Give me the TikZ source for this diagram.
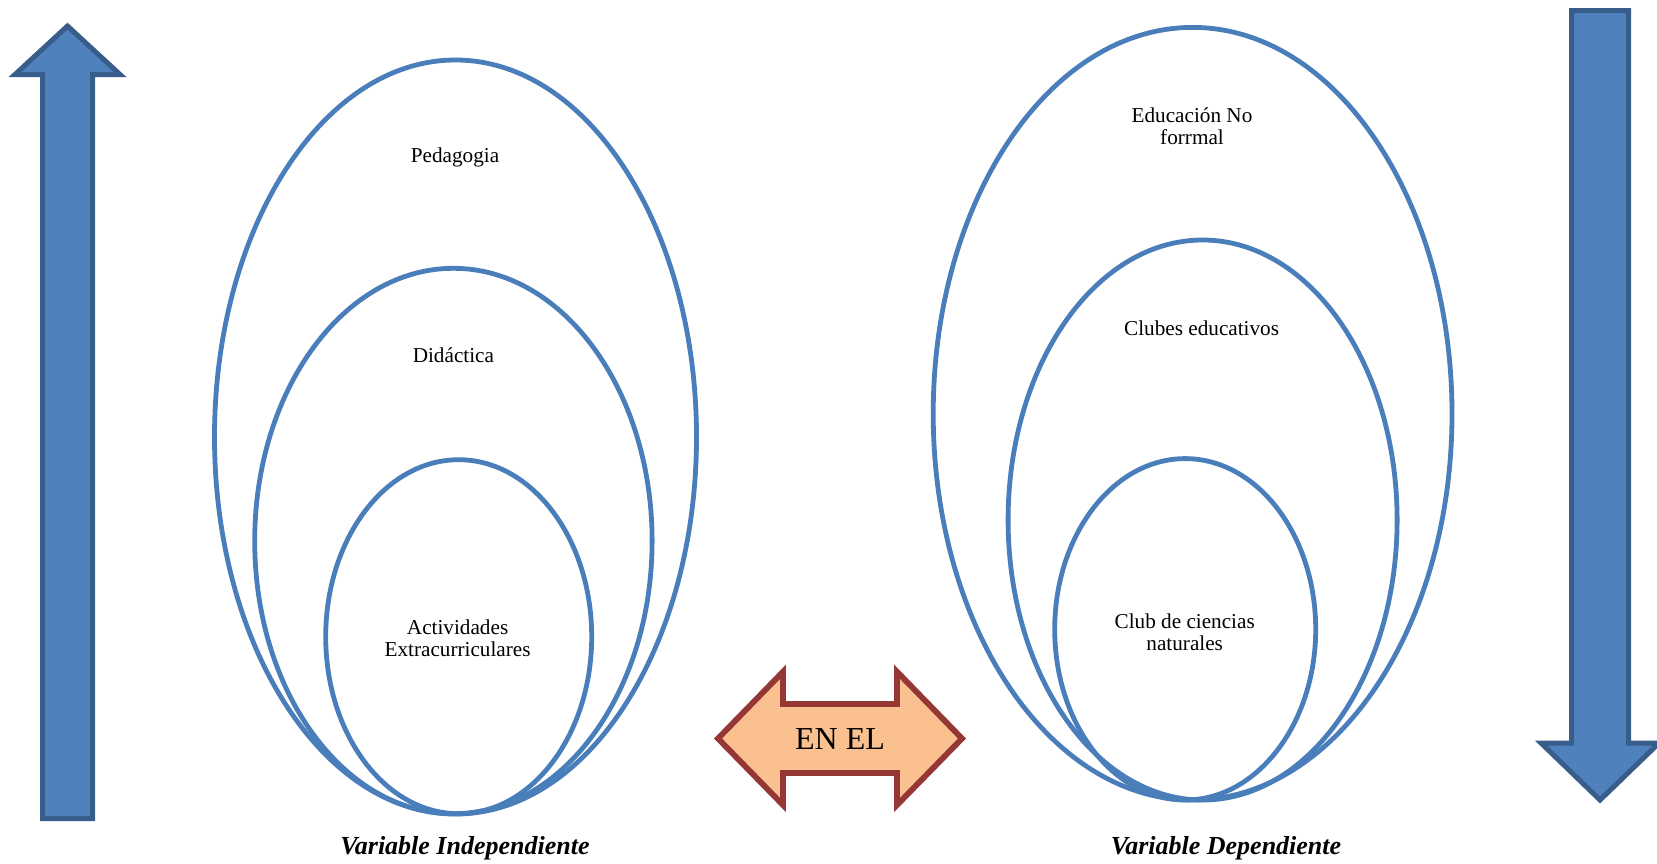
\documentclass[tikz,border=0pt]{standalone}
\usepackage{fontspec}
\setmainfont{Liberation Serif}
\usetikzlibrary{shapes.geometric}
\definecolor{arrowfill}{HTML}{4F81BD}
\definecolor{arrowline}{HTML}{385D8A}
\definecolor{ringline}{HTML}{4A7EBB}
\definecolor{peach}{HTML}{FAC090}
\definecolor{brick}{HTML}{953735}
\tikzset{
  ring/.style={ellipse, draw=ringline, line width=2.4pt, inner sep=0pt},
  bluearrow/.style={fill=arrowfill, draw=arrowline, line width=2.5pt},
  linkarrow/.style={fill=peach, draw=brick, line width=2.9pt},
  tag/.style={align=center, font=\fontsize{10.6}{11}\selectfont, inner sep=0pt},
  caption/.style={font=\fontsize{13}{15}\selectfont\bfseries\itshape, inner sep=0pt}
}
\begin{document}
\begin{tikzpicture}[x=0.5pt, y=-0.5pt]
\useasboundingbox (0,0) rectangle (1657,863);

% upward arrow on the left
\draw[bluearrow] (67.5,26) -- (120,74.5) -- (92.5,74.5) -- (92.5,818.5)
  -- (42.5,818.5) -- (42.5,74.5) -- (15,74.5) -- cycle;

% downward arrow on the right
\draw[bluearrow] (1571.5,10.5) -- (1628.5,10.5) -- (1628.5,743) -- (1659,743)
  -- (1600,800) -- (1541,743) -- (1571.5,743) -- cycle;

% independent variable: nested ellipses
\node[ring, minimum width=241pt, minimum height=377pt] (pedring) at (455.5,437) {};
\node[ring, minimum width=198.7pt, minimum height=272.7pt] (didring) at (453.4,541) {};
\node[ring, minimum width=133pt, minimum height=177pt] (actring) at (458.7,636.7) {};

\node[tag] (ped) at (455,157) {Pedagogia};
\node[tag] (did) at (453.4,355) {Didáctica};
\node[tag] (act) at (457.6,638) {Actividades\\Extracurriculares};

% dependent variable: nested ellipses
\node[ring, minimum width=259.4pt, minimum height=386.3pt] (ednring) at (1192.6,413.7) {};
\node[ring, minimum width=194.5pt, minimum height=280pt] (clubring) at (1202.6,520) {};
\node[ring, minimum width=130.5pt, minimum height=170.7pt] (cienring) at (1185.2,629.3) {};

\node[tag] (edn) at (1192,126) {Educación No\\forrmal};
\node[tag] (club) at (1201.6,328.5) {Clubes educativos};
\node[tag] (cien) at (1184.7,632) {Club de ciencias\\naturales};

% link between both variables
\draw[linkarrow] (718,738.5) -- (783,671.7) -- (783,704) -- (897,704) -- (897,671.7)
  -- (962,738.5) -- (897,805) -- (897,773) -- (783,773) -- (783,805) -- cycle;
\node[font=\fontsize{16}{18}\selectfont, inner sep=0pt] (link) at (840,739.5) {EN EL};

% captions
\node[caption] (indep) at (465,848) {Variable Independiente};
\node[caption] (dep) at (1226,848) {Variable Dependiente};
\end{tikzpicture}
\end{document}
